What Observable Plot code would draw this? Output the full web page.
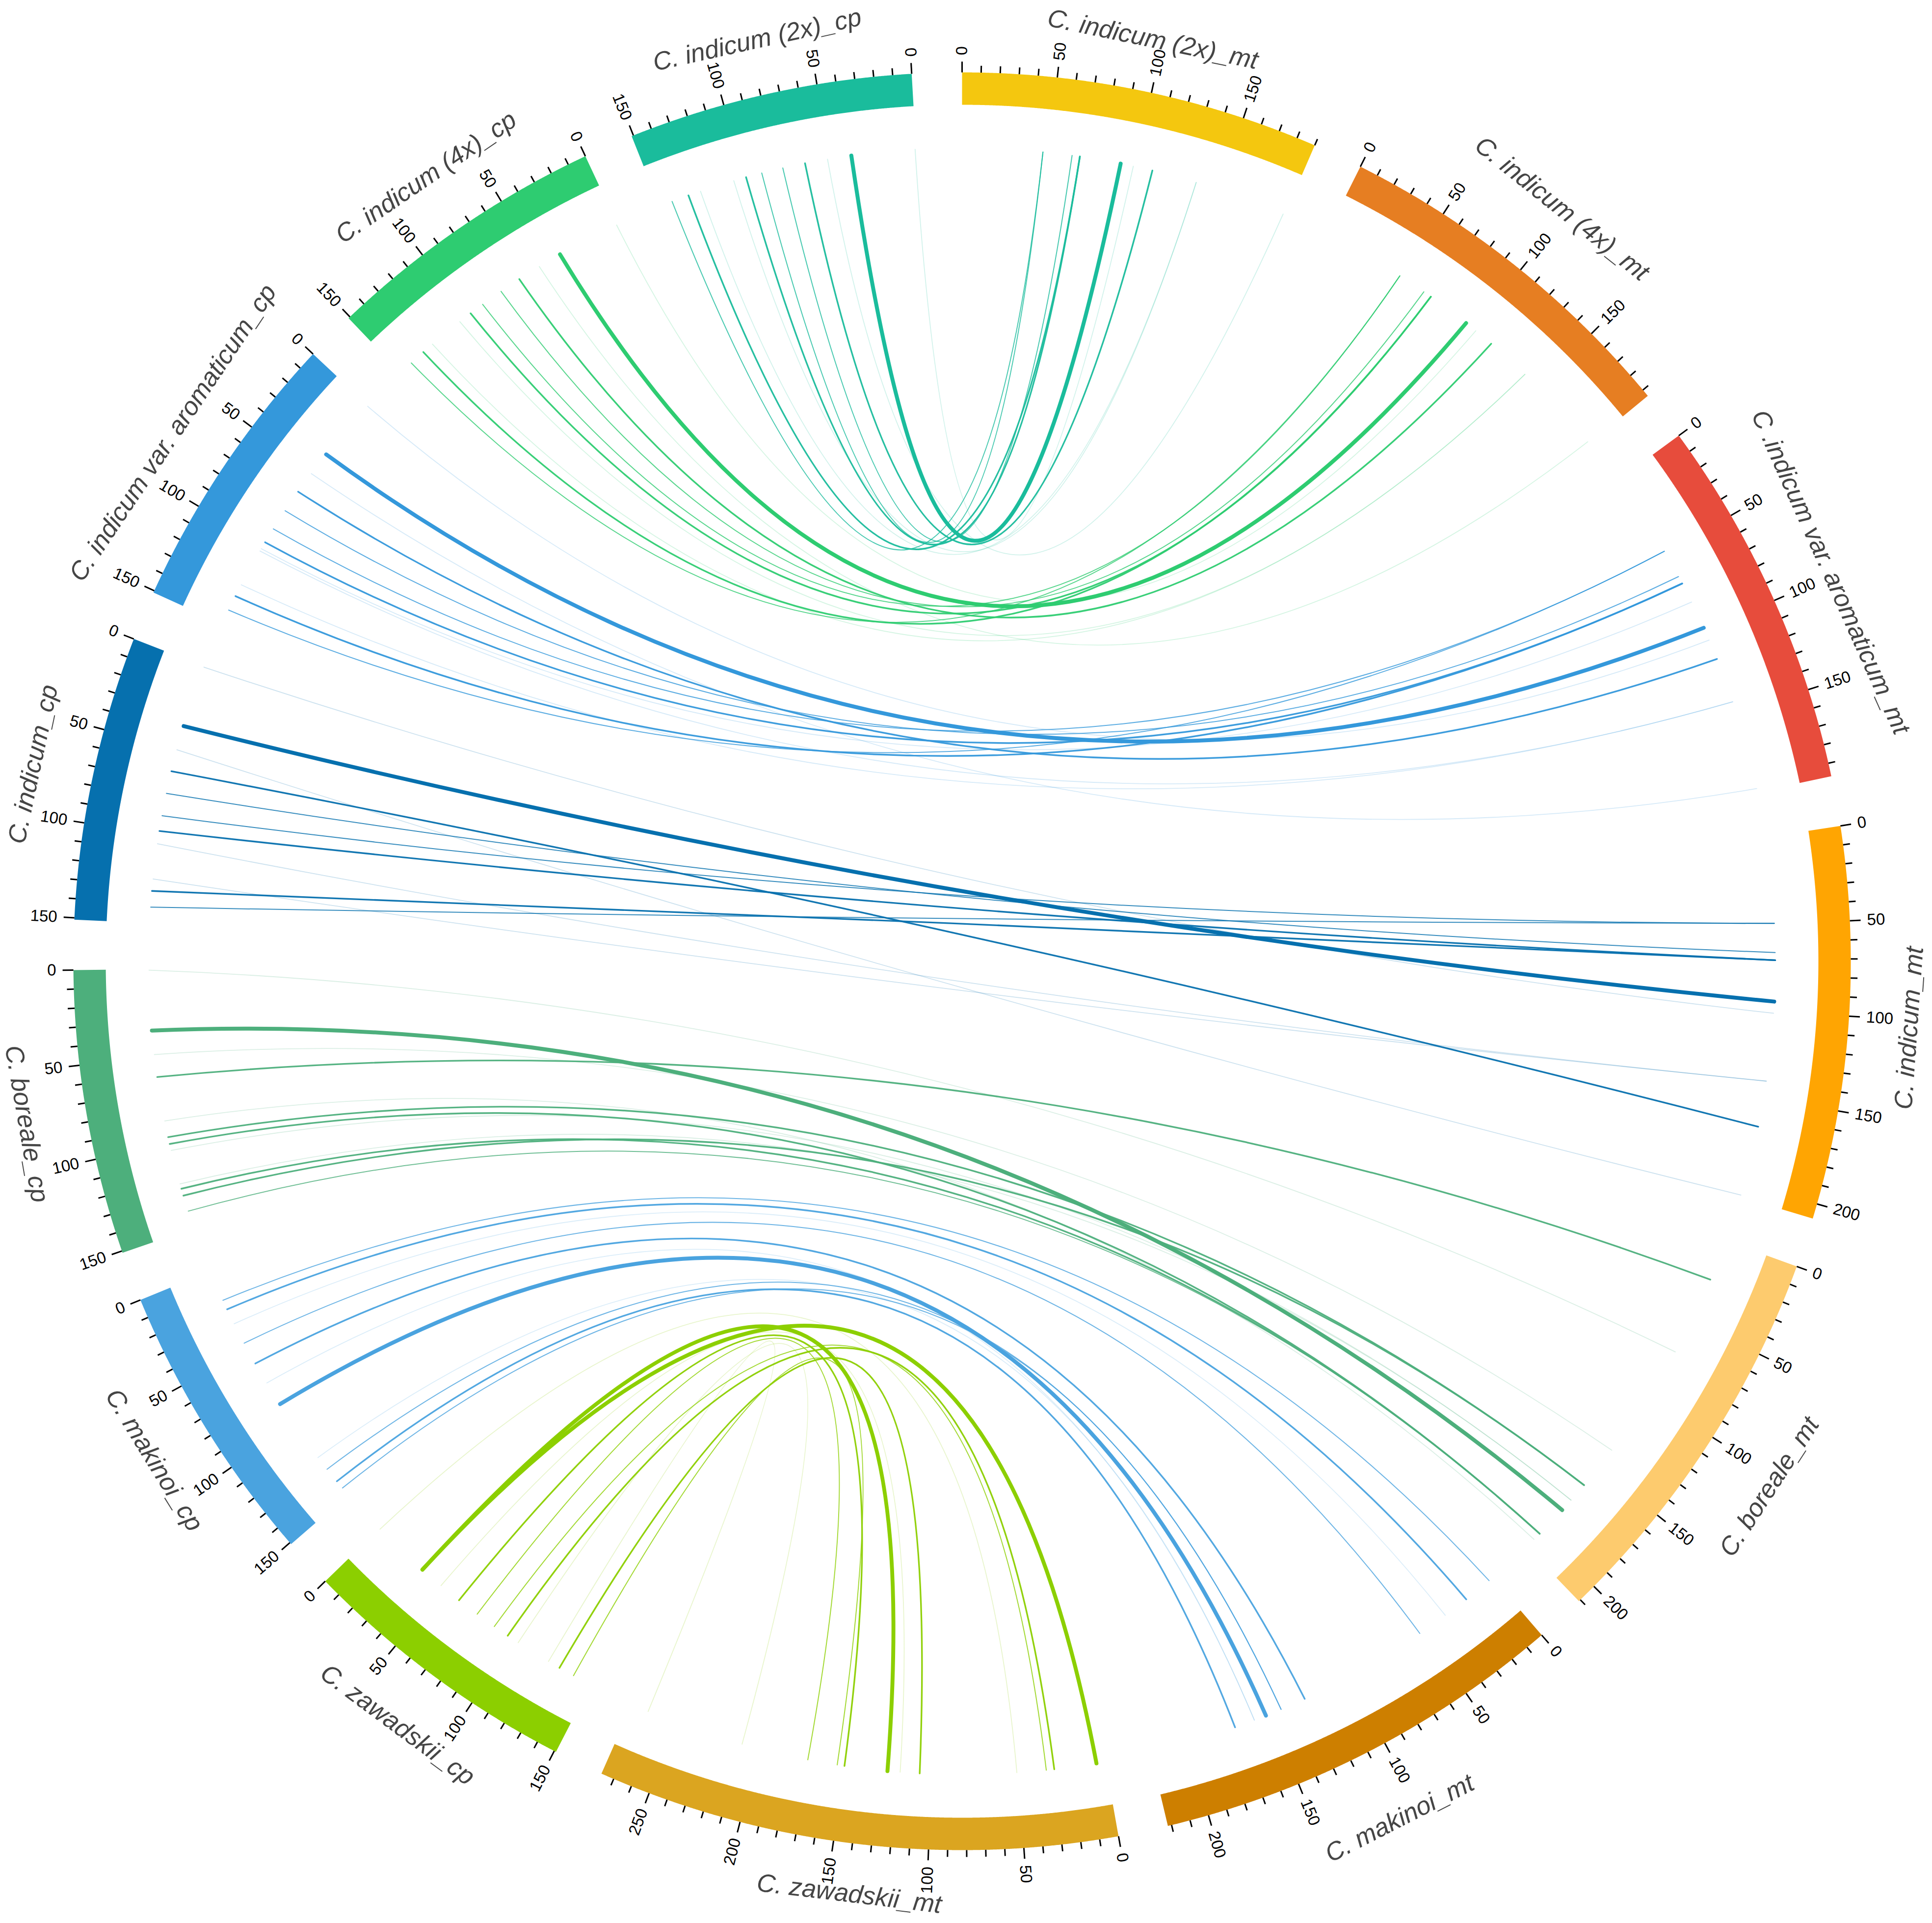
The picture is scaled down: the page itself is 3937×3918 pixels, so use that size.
<!DOCTYPE html>
<html><head><meta charset="utf-8">
<script src="https://cdn.jsdelivr.net/npm/d3@7"></script>
<script src="https://cdn.jsdelivr.net/npm/@observablehq/plot@0.6"></script>
<style>html,body{margin:0;padding:0;background:#fff;} #chart svg{display:block;}</style>
</head><body><div id="chart"></div>
<script>
// ---------- data ----------
const segNames = ["C. indicum (2x)_mt", "C. indicum (4x)_mt", "C .indicum var. aromaticum_mt", "C. indicum_mt", "C. boreale_mt", "C. makinoi_mt", "C. zawadskii_mt", "C. zawadskii_cp", "C. makinoi_cp", "C. boreale_cp", "C. indicum_cp", "C. indicum var. aromaticum_cp", "C. indicum (4x)_cp", "C. indicum (2x)_cp"];
const segLengths = [190, 194, 197, 208, 211, 222, 277, 151, 151, 151, 151, 151, 151, 151];
const segColors = ["#f4c70f", "#e67e22", "#e74c3c", "#ffa502", "#fdcb6e", "#cd7f00", "#dba520", "#8ccf00", "#4aa3df", "#4daf7c", "#0670ae", "#3498db", "#2ecc71", "#1abc9c"];
const segReversed = [false, false, false, false, false, false, false, true, true, true, true, true, true, true];

// links: [cp position, mt position, strength class]
const links2x = [[37.2, 91.4, "T"], [64.1, 110.0, "m"], [77.1, 63.2, "t"], [89.5, 46.4, "t"], [143.4, 46.4, "t"], [98.8, 67.7, "m"], [133.4, 67.7, "m"], [106.1, 136.0, "f"], [126.1, 136.0, "f"], [0.5, 98.8, "f"], [51.0, 189.0, "f"]];
const links4x = [[37.0, 94.9, "T"], [64.3, 113.5, "m"], [76.9, 64.8, "t"], [89.8, 48.3, "t"], [142.7, 48.3, "t"], [98.4, 69.7, "m"], [133.4, 69.7, "m"], [106.2, 139.6, "f"], [126.5, 139.6, "f"], [0.5, 102.0, "f"], [50.8, 192.4, "f"]];
const linksArom = [[36.9, 97.9, "T"], [63.6, 117.3, "m"], [76.8, 65.2, "t"], [89.2, 48.6, "t"], [142.3, 48.6, "t"], [98.2, 69.7, "m"], [133.4, 69.7, "m"], [104.0, 143.4, "f"], [126.1, 143.4, "f"], [0.5, 105.6, "f"], [50.8, 195.0, "f"], [102.5, 81.6, "f"]];
const linksIndicum = [[36.2, 94.3, "T"], [63.0, 166.6, "m"], [76.0, 66.2, "t"], [89.0, 49.5, "t"], [141.8, 49.5, "t"], [97.9, 70.6, "m"], [132.5, 70.6, "m"], [105.3, 140.1, "f"], [125.6, 140.1, "f"], [0.5, 101.0, "f"], [50.3, 207.0, "f"]];
const linksBoreale = [[35.1, 181.7, "T"], [61.9, 24.1, "m"], [96.9, 162.7, "m"], [131.5, 162.7, "m"], [100.9, 200.4, "m"], [127.4, 200.4, "m"], [140.8, 200.4, "t"], [87.4, 205.0, "f"], [0.5, 70.1, "f"], [48.9, 137.2, "f"], [104.7, 174.1, "f"], [124.5, 174.1, "f"]];
const linksMakinoi = [[86.1, 152.5, "T"], [58.9, 128.3, "m"], [141.0, 171.4, "m"], [132.1, 143.1, "t"], [146.0, 143.1, "t"], [71.8, 159.6, "f"], [123.6, 159.6, "f"], [18.2, 2.5, "t"], [23.9, 19.4, "m"], [33.1, 34.5, "f"], [45.6, 52.4, "t"]];
const linksZaw = [[34.1, 5.1, "T"], [34.1, 125.2, "T"], [61.4, 150.0, "m"], [95.9, 29.5, "m"], [130.8, 106.7, "m"], [74.5, 171.3, "t"], [86.6, 34.1, "t"], [140.0, 154.2, "t"], [0.5, 51.0, "f"], [48.1, 117.9, "f"], [103.1, 210.0, "f"], [123.5, 267.0, "f"]];
const linkGroups = [
  {cp: 13, mt: 0, links: links2x},
  {cp: 12, mt: 1, links: links4x},
  {cp: 11, mt: 2, links: linksArom},
  {cp: 10, mt: 3, links: linksIndicum},
  {cp: 9, mt: 4, links: linksBoreale},
  {cp: 8, mt: 5, links: linksMakinoi},
  {cp: 7, mt: 6, links: linksZaw}
];

// ---------- styles / geometry ----------
const W = 3937, H = 3918, CX = 1960, CY = 1958;
const gapDeg = 3.25;
const rIn = 1745, rOut = 1811, rMid = (rIn + rOut) / 2;
const rLink = 1657, rCtrl = 80;
const tickMinor = 14, tickMajor = 22, rTickLabel = 1846, rLabel = 1935;
const labelShift = [-17, 26, 4, 0, 28, 26, -21, 0, 0, 0, 0, 0, 0, -12];
const linkWidth = {T: 8, m: 3.4, t: 2.0, f: 1.8};
const linkOpacity = {T: 1, m: 0.95, t: 0.8, f: 0.2};
const linkOrder = {f: 0, t: 1, m: 2, T: 3};
const font = "'Liberation Sans', Arial, Helvetica, sans-serif";

const total = d3.sum(segLengths);
const k = (360 - segLengths.length * gapDeg) / total; // degrees per unit
const segStart = [];
{ let a = 0; segLengths.forEach((L, i) => { segStart.push(a); a += L * k + gapDeg; }); }
const rad = Math.PI / 180;
function ang(i, pos) { // degrees clockwise from 12 o'clock
  return segReversed[i] ? segStart[i] + (segLengths[i] - pos) * k : segStart[i] + pos * k;
}
function pol(r, deg) { return [r * Math.sin(deg * rad), -r * Math.cos(deg * rad)]; }

// segment arcs
const arcData = [];
segLengths.forEach((L, i) => {
  for (let p = 0; p <= L + 1e-9; p += 0.5) {
    const [x, y] = pol(rMid, ang(i, Math.min(p, L)));
    arcData.push({seg: i, x, y, color: segColors[i]});
  }
});

// ticks
const tickData = [], tickLabR = [], tickLabL = [];
segLengths.forEach((L, i) => {
  for (let p = 0; p <= L; p += 10) {
    const a = ang(i, p), major = p % 50 === 0;
    const [x1, y1] = pol(rOut, a), [x2, y2] = pol(rOut + (major ? tickMajor : tickMinor), a);
    tickData.push({x1, y1, x2, y2});
    if (major) {
      const [x, y] = pol(rTickLabel, a);
      const an = ((a % 360) + 360) % 360;
      if (an < 180) tickLabR.push({x, y, text: String(p), rotate: an - 90});
      else tickLabL.push({x, y, text: String(p), rotate: an - 270});
    }
  }
});

// segment labels
const labelData = segNames.map((name, i) => {
  const a = ((segStart[i] + segLengths[i] * k / 2) % 360 + 360) % 360;
  const [x, y] = pol(rLabel + labelShift[i], a);
  return {x, y, text: name, rotate: (a > 90 && a < 270) ? a - 180 : a};
});

// links (quadratic curves: endpoint, control, endpoint)
const linkList = [];
linkGroups.forEach((g, gi) => g.links.forEach(([pc, pm, s], li) => {
  const a1 = ang(g.cp, pc), a2 = ang(g.mt, pm);
  linkList.push({gi, li, a1, a2, s, color: segColors[g.cp]});
}));
linkList.sort((A, B) => linkOrder[A.s] - linkOrder[B.s]);
const linkData = [];
linkList.forEach((L, n) => {
  const p1 = pol(rLink, L.a1), p2 = pol(rLink, L.a2);
  let ux = Math.sin(L.a1 * rad) + Math.sin(L.a2 * rad), uy = -Math.cos(L.a1 * rad) - Math.cos(L.a2 * rad);
  const nn = Math.hypot(ux, uy);
  const c = nn > 1e-6 ? [ux / nn * rCtrl, uy / nn * rCtrl] : [0, 0];
  for (const p of [p1, c, p2]) linkData.push({id: n, x: p[0], y: p[1], color: L.color, w: linkWidth[L.s], a: linkOpacity[L.s]});
});

// custom quadratic Bezier curve factory
function quadCurve(context) {
  let pts = [];
  return {
    areaStart() {}, areaEnd() {},
    lineStart() { pts = []; },
    point(x, y) { pts.push([+x, +y]); },
    lineEnd() {
      if (pts.length === 3) {
        context.moveTo(pts[0][0], pts[0][1]);
        context.quadraticCurveTo(pts[1][0], pts[1][1], pts[2][0], pts[2][1]);
      } else if (pts.length) {
        context.moveTo(pts[0][0], pts[0][1]);
        for (let j = 1; j < pts.length; ++j) context.lineTo(pts[j][0], pts[j][1]);
      }
    }
  };
}

const chart = Plot.plot({
  width: W, height: H, margin: 0,
  style: {fontFamily: font, background: "#fff"},
  x: {domain: [-CX, W - CX], range: [0, W], axis: null},
  y: {domain: [-CY, H - CY], range: [0, H], axis: null},
  color: {type: "identity"},
  marks: [
    Plot.line(linkData, {x: "x", y: "y", z: "id", stroke: "color", strokeWidth: "w", strokeOpacity: "a", curve: quadCurve, fill: "none"}),
    Plot.line(arcData, {x: "x", y: "y", z: "seg", stroke: "color", strokeWidth: rOut - rIn, strokeLinecap: "butt", curve: "linear"}),
    Plot.link(tickData, {x1: "x1", y1: "y1", x2: "x2", y2: "y2", stroke: "#000", strokeWidth: 3}),
    Plot.text(tickLabR, {x: "x", y: "y", text: "text", rotate: "rotate", textAnchor: "start", fontSize: 33, fill: "#000"}),
    Plot.text(tickLabL, {x: "x", y: "y", text: "text", rotate: "rotate", textAnchor: "end", fontSize: 33, fill: "#000"}),
    Plot.text(labelData, {x: "x", y: "y", text: "text", rotate: "rotate", textAnchor: "middle", fontSize: 52, fontStyle: "italic", fill: "#454545"})
  ]
});
document.getElementById("chart").appendChild(chart);
</script>
</body></html>
